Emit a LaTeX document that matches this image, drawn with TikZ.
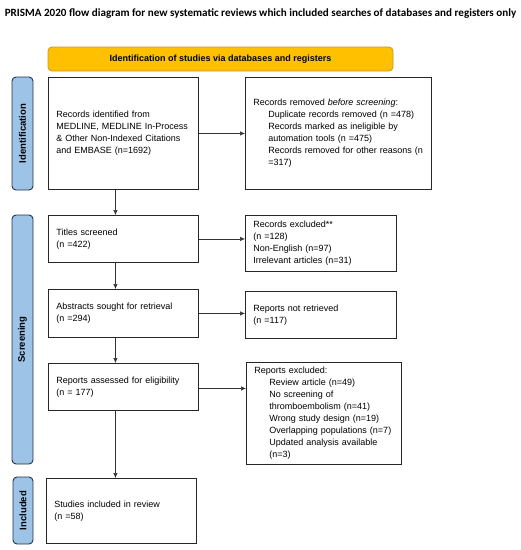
\documentclass[tikz,border=0pt]{standalone}
\usepackage{fontspec}
\setmainfont{Liberation Sans}
\newfontfamily\titlefont{Carlito}
\usepackage{tikz}
\usetikzlibrary{positioning,calc,arrows.meta}
\usepackage{xcolor}
\definecolor{bannerfill}{HTML}{FFC000}
\definecolor{bannerdraw}{HTML}{C8962A}
\definecolor{tabfill}{HTML}{9DC3E6}
\definecolor{tabdraw}{HTML}{22324F}
\newcommand{\indentitem}{\hspace*{15pt}}

\begin{document}
\begin{tikzpicture}[x=1pt,y=-1pt,
    box/.style={rectangle,draw=black!85,line width=0.9pt,anchor=north west,align=left,
        inner xsep=8pt,inner ysep=2pt,font=\fontsize{9}{12}\selectfont},
    tab/.style={rectangle,rounded corners=4pt,draw=tabdraw,fill=tabfill,line width=0.9pt,
        rotate=90,minimum height=21pt,inner sep=0pt,font=\fontsize{9.5}{10}\selectfont\bfseries},
    flow/.style={-{Latex[length=5pt,width=4.5pt]},draw=black!80,line width=0.6pt}]
\useasboundingbox (0,0) rectangle (521,550);
\node (title) at (260.5,14) [font=\titlefont\fontsize{11.1}{13}\selectfont\bfseries]
    {PRISMA 2020 flow diagram for new systematic reviews which included searches of databases and registers only};
\node (banner) at (220.5,59) [rectangle,rounded corners=4pt,draw=bannerdraw,fill=bannerfill,line width=0.8pt,
    minimum width=345pt,minimum height=24pt,font=\fontsize{9}{10}\selectfont\bfseries]
    {Identification of studies via databases and registers};
% side tabs
\node[tab,minimum width=113pt] (idtab) at (22.5,133.5) {Identification};
\node[tab,minimum width=249pt] (scrtab) at (22.5,339.5) {Screening};
\node[tab,minimum width=67pt,minimum height=20pt] (inctab) at (23,510.5) {Included};
% boxes
\node[box,text width=134pt,minimum height=112pt] (ident) at (48,77)
    {Records identified from\\MEDLINE, MEDLINE In-Process\\\& Other Non-Indexed Citations\\and EMBASE (n=1692)};
\node[box,text width=170pt,minimum height=112pt] (removed) at (245,77)
    {Records removed \textit{before screening}:\\
     \indentitem Duplicate records removed (n =478)\\
     \indentitem Records marked as ineligible by\\
     \indentitem automation tools (n =475)\\
     \indentitem Records removed for other reasons (n\\
     \indentitem =317)};
\node[box,text width=134pt,minimum height=47pt] (titles) at (48,215)
    {Titles screened\\(n =422)};
\node[box,text width=135pt,minimum height=56pt] (excl) at (245,215)
    {Records excluded**\\(n =128)\\Non-English (n=97)\\Irrelevant articles (n=31)};
\node[box,text width=134pt,minimum height=48pt] (abstr) at (48,289)
    {Abstracts sought for retrieval\\(n =294)};
\node[box,text width=135pt,minimum height=47pt] (notret) at (245,291)
    {Reports not retrieved\\(n =117)};
\node[box,text width=134pt,minimum height=47pt] (assess) at (48,363)
    {Reports assessed for eligibility\\(n = 177)};
\node[box,text width=139pt,minimum height=102pt] (repexcl) at (246,362)
    {Reports excluded:\\
     \indentitem Review article (n=49)\\
     \indentitem No screening of\\
     \indentitem thromboembolism (n=41)\\
     \indentitem Wrong study design (n=19)\\
     \indentitem Overlapping populations (n=7)\\
     \indentitem Updated analysis available\\
     \indentitem (n=3)};
\node[box,text width=134pt,minimum height=65pt] (incl) at (46,478)
    {Studies included in review\\(n =58)};
% arrows
\draw[flow] ([yshift=0pt]ident.east) -- (ident.east -| removed.west);
\draw[flow] (titles.east) -- (titles.east -| excl.west);
\draw[flow] (abstr.east) -- (abstr.east -| notret.west);
\draw[flow] ([yshift=-1.5pt]assess.east) -- ([yshift=-1.5pt]assess.east -| repexcl.west);
\draw[flow] ([xshift=-8pt]ident.south) -- ([xshift=-8pt]titles.north);
\draw[flow] ([xshift=-8pt]titles.south) -- ([xshift=-8pt]abstr.north);
\draw[flow] ([xshift=-8pt]abstr.south) -- ([xshift=-8pt]assess.north);
\draw[flow] ([xshift=-8pt]assess.south) -- ([xshift=-8pt]assess.south |- incl.north);
\end{tikzpicture}
\end{document}
